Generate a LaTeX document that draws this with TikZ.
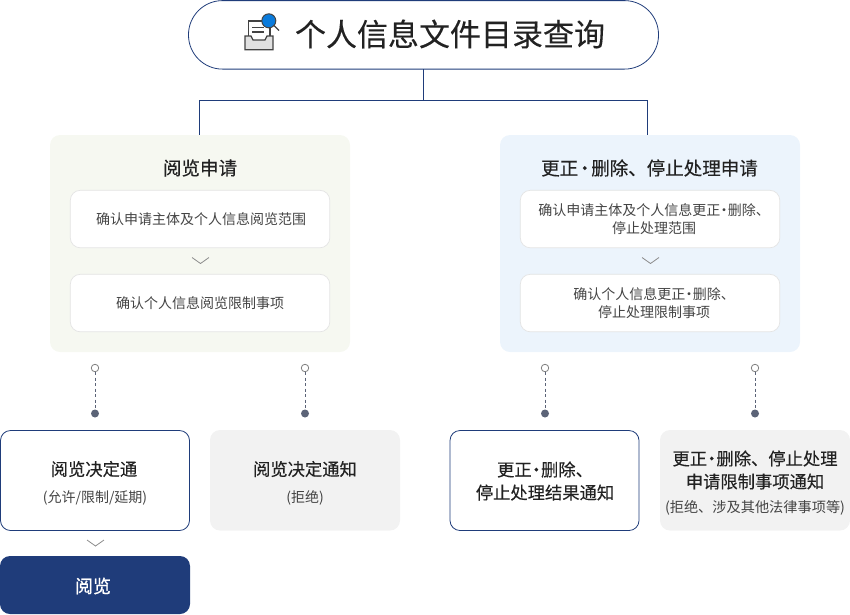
\documentclass[tikz,border=0pt]{standalone}
\usepackage{fontspec}
\setmainfont{Noto Sans CJK SC}
\definecolor{navy}{HTML}{1F3C7A}
\definecolor{ink}{HTML}{222222}
\definecolor{softink}{HTML}{444444}
\definecolor{panelG}{HTML}{F6F8F1}
\definecolor{panelB}{HTML}{ECF4FC}
\definecolor{innerline}{HTML}{E4E4E4}
\definecolor{grayfill}{HTML}{F2F2F2}
\definecolor{dotc}{HTML}{5B6377}
\definecolor{chev}{HTML}{8C8C8C}
\definecolor{iconblue}{HTML}{0A7BDC}
\newcommand{\fs}[2]{\fontsize{#1pt}{#2pt}\selectfont}
\newcommand{\heavy}{\addfontfeature{FakeBold=0.25}}
\newcommand{\dotsep}{\kern-.23em·\kern-.23em}
\newcommand{\dotwide}{\kern-.15em·\kern-.15em}
\newcommand{\nudge}{\hspace*{8pt}}
\tikzset{
  x=1pt,y=-1pt,
  box/.style={rounded corners=#1,inner sep=0pt,outer sep=0pt,anchor=north west},
  panel/.style={box=10pt,draw=none,minimum width=300pt,minimum height=217pt},
  innerbox/.style={box=10pt,draw=innerline,line width=.7pt,fill=white,minimum width=259.5pt,minimum height=57.5pt,align=center,text=softink,font=\fs{14}{18}},
  navybox/.style={box=10pt,minimum width=189pt,minimum height=100pt,draw=navy,line width=.8pt,fill=white},
  graybox/.style={box=10pt,minimum width=190pt,minimum height=100.5pt,fill=grayfill},
  conn/.style={draw=navy,line width=.8pt},
  chevron/.style={draw=chev,line width=.8pt},
  opendot/.style={circle,draw=gray,line width=.8pt,fill=white,minimum size=7.5pt,inner sep=0pt},
  filldot/.style={circle,fill=dotc,minimum size=8pt,inner sep=0pt},
  dotlink/.style={draw=dotc,line width=.8pt,dash pattern=on 3pt off 2.5pt},
  lab/.style={inner sep=0pt,text=ink},
  sublab/.style={inner sep=0pt,text=softink,font=\fs{14}{18}},
  biglab/.style={inner sep=0pt,text=ink,align=center,font=\fs{17.3}{23}\heavy},
}
\begin{document}
\begin{tikzpicture}
\useasboundingbox (0,0) rectangle (850,614);
% title
\node[box=34pt,draw=navy,line width=.8pt,fill=white,minimum width=470pt,minimum height=68.5pt] (title) at (188.5,0.6) {};
\node[lab,font=\fs{31}{36}\heavy,anchor=center] (titletext) at (450,34) {个人信息文件目录查询};
% icon
\filldraw[draw=ink!85,line width=1.3pt,fill=white] (248.5,44) -- (248.5,21) -- (270,21) -- (270,44) -- cycle;
\draw[ink!85,line width=1.2pt] (252,27.5) -- (264,27.5) (252,32) -- (264,32);
\filldraw[draw=ink!85,line width=1.3pt,fill=grayfill!85!gray] (245,36) -- (251,36) -- (253,40) -- (265,40) -- (267,36) -- (273,36) -- (273,49.8) -- (245,49.8) -- cycle;
\draw[ink!85,line width=1.2pt] (274,25.5) -- (279,30.5);
\filldraw[draw=ink!85,line width=1pt,fill=iconblue] (268.8,20.8) circle[radius=7pt];
% panels
\node[panel,fill=panelG] (left) at (50,135) {};
\node[panel,fill=panelB] (right) at (500,135) {};
% top tree
\coordinate (junction) at (423,100);
\coordinate (lj) at (199,135);
\coordinate (rj) at (647,135);
\draw[conn] (title.south -| junction) -- (junction);
\draw[conn] (junction) -| (lj);
\draw[conn] (junction) -| (rj);
% panel headings
\node[lab,font=\fs{18.5}{22}\heavy] (lefthead) at (200,168) {阅览申请};
\node[lab,font=\fs{18.5}{22}\heavy] (righthead) at (649.5,168) {更正\dotwide 删除、停止处理申请};
% inner boxes
\node[innerbox] (l1) at (70.3,190.3) {\hspace*{2pt}确认申请主体及个人信息阅览范围};
\node[innerbox] (l2) at (70.3,274.3) {确认个人信息阅览限制事项};
\node[innerbox] (r1) at (520.3,190.3) {\nudge 确认申请主体及个人信息更正\dotsep 删除、\\\nudge 停止处理范围};
\node[innerbox] (r2) at (520.3,274.3) {\nudge 确认个人信息更正\dotsep 删除、\\\nudge 停止处理限制事项};
% chevrons
\draw[chevron] (192,257.5) -- (200.5,263.5) -- (209,257.5);
\draw[chevron] (642,257.5) -- (650.5,263.5) -- (659,257.5);
\draw[chevron] (87,540) -- (95.5,546) -- (104,540);
% dotted connectors
\node[opendot] (a1) at (95,368) {};
\node[filldot] (a2) at (95,413.5) {};
\node[opendot] (b1) at (305,368) {};
\node[filldot] (b2) at (305,413.5) {};
\node[opendot] (c1) at (545,368) {};
\node[filldot] (c2) at (545,413.5) {};
\node[opendot] (d1) at (755,368) {};
\node[filldot] (d2) at (755,413.5) {};
\draw[dotlink] (a1) -- (a2);
\draw[dotlink] (b1) -- (b2);
\draw[dotlink] (c1) -- (c2);
\draw[dotlink] (d1) -- (d2);
% result boxes
\node[navybox] (ra) at (0.5,430.5) {};
\node[biglab] (ratext) at (94,469) {阅览决定通};
\node[sublab] (rasub) at (95,497.5) {(允许/限制/延期)};
\node[graybox] (rb) at (210,430) {};
\node[biglab] (rbtext) at (305,469) {阅览决定通知};
\node[sublab] (rbsub) at (305,497.5) {(拒绝)};
\node[navybox] (rc) at (450,430.5) {};
\node[biglab] (rctext) at (545,481) {更正\dotsep 删除、\\停止处理结果通知};
\node[graybox] (rd) at (660,430) {};
\node[biglab] (rdtext) at (755,470) {更正\dotsep 删除、停止处理\\申请限制事项通知};
\node[sublab,font=\fs{14.2}{18}] (rdsub) at (755,507.5) {(拒绝、涉及其他法律事项等)};
% read
\node[box=10pt,fill=navy,minimum width=190pt,minimum height=58pt] (read) at (0,556) {};
\node[lab,font=\fs{18}{22}\addfontfeature{FakeBold=0.8},text=white] (readtext) at (93,586) {阅览};
\end{tikzpicture}
\end{document}
